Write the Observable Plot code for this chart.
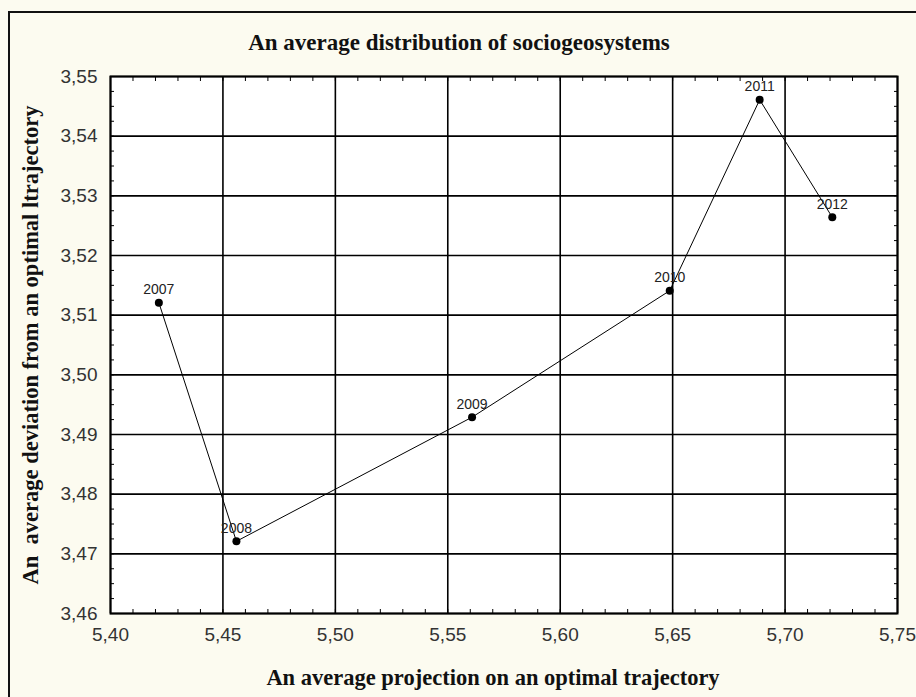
<!DOCTYPE html>
<html><head><meta charset="utf-8">
<script src="https://cdn.jsdelivr.net/npm/d3@7"></script>
<script src="https://cdn.jsdelivr.net/npm/@observablehq/plot@0.6"></script>
<style>
html,body{margin:0;padding:0;background:#fcfbf0;}
#wrap{position:relative;width:916px;height:697px;overflow:hidden;background:#fcfbf0;}
#chart svg{display:block;}
#border{position:absolute;left:8px;top:11px;width:2000px;height:2000px;border-top:2px solid #111;border-left:2px solid #111;pointer-events:none;}
</style></head><body><div id="wrap"><div id="chart"></div><div id="border"></div></div>
<script>
// ---- data ----
const years = [2007, 2008, 2009, 2010, 2011, 2012];
const projection = [5.4215, 5.456, 5.5608, 5.6487, 5.6887, 5.721];
const deviation = [3.5121, 3.4721, 3.4929, 3.5141, 3.5461, 3.5264];
const xTicks = [5.40, 5.45, 5.50, 5.55, 5.60, 5.65, 5.70, 5.75];
const yTicks = [3.46, 3.47, 3.48, 3.49, 3.50, 3.51, 3.52, 3.53, 3.54, 3.55];
const titleText = ["An average distribution of sociogeosystems"];
const xTitle = ["An average projection on an optimal trajectory"];
const yTitle = ["An  average deviation from an optimal ltrajectory"];

const data = years.map((yr, i) => ({year: String(yr), x: projection[i], y: deviation[i]}));
const xMinor = d3.range(0, 36).map(i => +(5.40 + i * 0.01).toFixed(2));
const yMinor = d3.range(0, 37).map(i => +(3.46 + i * 0.0025).toFixed(4));
const fmt = d => d.toFixed(2).replace(".", ",");
const serif = "'Liberation Serif', 'Times New Roman', serif";
const sans = "'Liberation Sans', Arial, sans-serif";

const chart = Plot.plot({
  width: 916, height: 697,
  marginLeft: 110, marginRight: 19, marginTop: 76, marginBottom: 84,
  style: {background: "transparent", fontFamily: sans, overflow: "visible"},
  x: {domain: [5.40, 5.75]},
  y: {domain: [3.46, 3.55]},
  marks: [
    Plot.frame({fill: "white"}),
    Plot.gridX(xTicks, {stroke: "#000", strokeOpacity: 1, strokeWidth: 1.6}),
    Plot.gridY(yTicks, {stroke: "#000", strokeOpacity: 1, strokeWidth: 1.6}),
    Plot.axisX(xMinor, {anchor: "bottom", tickSize: -4, text: null, label: null, stroke: "#000"}),
    Plot.axisX(xMinor, {anchor: "top", tickSize: -4, text: null, label: null, stroke: "#000"}),
    Plot.axisY(yMinor, {anchor: "left", tickSize: -4, text: null, label: null, stroke: "#000"}),
    Plot.axisY(yMinor, {anchor: "right", tickSize: -4, text: null, label: null, stroke: "#000"}),
    Plot.axisX(xTicks, {anchor: "bottom", tickSize: 0, tickPadding: 14, tickFormat: fmt, label: null,
      fontSize: 19, fill: "#333", style: "letter-spacing:0.6px"}),
    Plot.axisY(yTicks, {anchor: "left", tickSize: 0, tickPadding: 13, tickFormat: fmt, label: null,
      fontSize: 19, fill: "#333", style: "letter-spacing:0.6px"}),
    Plot.line(data, {x: "x", y: "y", stroke: "#000", strokeWidth: 1}),
    Plot.dot(data, {x: "x", y: "y", r: 4, fill: "#000", stroke: "none"}),
    Plot.text(data, {x: "x", y: "y", text: "year", dy: -13, fontSize: 14, fill: "#222", fontFamily: sans}),
    Plot.frame({stroke: "#000", strokeWidth: 2}),
    Plot.text(titleText, {text: d => d, frameAnchor: "top", lineAnchor: "middle", dy: -34, dx: -45,
      fontSize: 23, fontWeight: "bold", fontFamily: serif, fill: "#111"}),
    Plot.text(xTitle, {text: d => d, frameAnchor: "bottom", lineAnchor: "middle", dy: 64, dx: -11,
      fontSize: 22.5, fontWeight: "bold", fontFamily: serif, fill: "#111"}),
    Plot.text(yTitle, {text: d => d, frameAnchor: "left", textAnchor: "middle", lineAnchor: "middle",
      dx: -80, rotate: -90, fontSize: 22.5, fontWeight: "bold", fontFamily: serif, fill: "#111"})
  ]
});
document.getElementById("chart").append(chart);
</script>
</body></html>
